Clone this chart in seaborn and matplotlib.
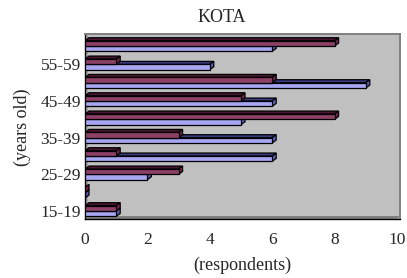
import matplotlib
matplotlib.use('Agg')
import matplotlib.pyplot as plt
import matplotlib.transforms as mtransforms
from matplotlib.patches import Polygon
import seaborn as sns
import pandas as pd

# data (bottom to top)
age_groups = ['15-19', '20-24', '25-29', '30-34', '35-39',
              '40-44', '45-49', '50-54', '55-59', '60-64']
series_a = [1, 0, 2, 6, 6, 5, 6, 9, 4, 6]   # light blue bars
series_b = [1, 0, 3, 1, 3, 8, 5, 6, 1, 8]   # maroon bars
x_ticks = [0, 2, 4, 6, 8, 10]

name_a, name_b = 'Series 1', 'Series 2'
front_colors = {name_a: '#9999FF', name_b: '#993366'}
top_colors = {name_a: '#3A3A80', name_b: '#4A1530'}
side_colors = {name_a: '#5C5CB8', name_b: '#6E2047'}

df = pd.DataFrame({
    'age': age_groups * 2,
    'value': series_a + series_b,
    'series': [name_a] * len(age_groups) + [name_b] * len(age_groups),
})

sns.set_style('white')
plt.rcParams['font.family'] = ['Liberation Serif', 'DejaVu Serif']

W, H = 407, 278
fig = plt.figure(figsize=(W / 100, H / 100), dpi=100)
# plot area in pixels (from top-left): x 85..400, y 34..219
ax = fig.add_axes([85 / W, (H - 219) / H, 315 / W, 185 / H])
ax.set_facecolor('#C0C0C0')

order = age_groups[::-1]
sns.barplot(data=df, y='age', x='value', hue='series', order=order,
            hue_order=[name_b, name_a], palette=front_colors,
            orient='h', width=0.58, edgecolor='black', linewidth=0.9,
            legend=False, ax=ax, zorder=3)

ax.set_xlim(0, 10 * 315 / 312)
ax.set_ylim(9.435, 9.435 - 185 / 18.33)

pix = mtransforms.IdentityTransform()


def px(x, y):
    # pixel coords measured from the top-left -> display coords
    return (x, H - y)


# floor and left wall of the 3D box (behind the bars)
x_left, x_right = 85, 397
ax.add_artist(Polygon([px(x_left, 219), px(x_left + 3, 216), px(x_right + 3, 216), px(x_right, 219)],
                      closed=True, facecolor='#808080', edgecolor='none',
                      transform=pix, zorder=1))
ax.add_artist(Polygon([px(x_left, 219), px(x_left, 37), px(x_left + 3, 34), px(x_left + 3, 216)],
                      closed=True, facecolor='#A0A0A0', edgecolor='none',
                      transform=pix, zorder=1))

# fake 3D faces on each bar (offset in pixels)
dx, dy = 4, 3
n = len(age_groups)
for i, bar in enumerate(ax.patches[:2 * n]):
    name = name_b if i < n else name_a
    base_z = 5 if name == name_b else 2
    bar.set_zorder(base_z + 1)
    x0, y0 = bar.get_x(), bar.get_y()
    x1, y1 = x0 + bar.get_width(), y0 + bar.get_height()
    (px0, py_a), (px1, py_b) = ax.transData.transform([(x0, y0), (x1, y1)])
    ptop, pbot = max(py_a, py_b), min(py_a, py_b)
    top = Polygon([(px0, ptop), (px0 + dx, ptop + dy), (px1 + dx, ptop + dy), (px1, ptop)],
                  closed=True, facecolor=top_colors[name], edgecolor='black',
                  linewidth=0.9, transform=pix, zorder=base_z)
    side = Polygon([(px1, ptop), (px1 + dx, ptop + dy), (px1 + dx, pbot + dy), (px1, pbot)],
                   closed=True, facecolor=side_colors[name], edgecolor='black',
                   linewidth=0.9, transform=pix, zorder=base_z)
    ax.add_artist(top)
    ax.add_artist(side)

for side in ['top', 'right']:
    ax.spines[side].set_color('#808080')
    ax.spines[side].set_linewidth(1.4)
for side in ['left', 'bottom']:
    ax.spines[side].set_color('black')
    ax.spines[side].set_linewidth(1.0)

ax.set_xticks(x_ticks)
ax.set_xticklabels([str(t) for t in x_ticks], fontsize=12.5)
pos = [order.index(a) for a in age_groups[::2]]
ax.set_yticks(pos)
ax.set_yticklabels(age_groups[::2], fontsize=12.5)
ax.tick_params(axis='x', direction='out', length=3, width=1, pad=6, color='black')
ax.tick_params(axis='y', length=0, pad=3)
ax.grid(False)

ax.set_xlabel('(respondents)', fontsize=13)
ax.set_ylabel('(years old)', fontsize=13)
ax.xaxis.set_label_coords((242 - 85) / 315, -(265 - 219) / 185)
ax.xaxis.label.set_va('center')
ax.yaxis.set_label_coords((22 - 85) / 315, (219 - 127) / 185)
ax.yaxis.label.set_va('center')

fig.text(222 / W, 1 - 17 / H, 'KOTA', ha='center', va='center', fontsize=13)

fig.savefig('out.png', dpi=100)
